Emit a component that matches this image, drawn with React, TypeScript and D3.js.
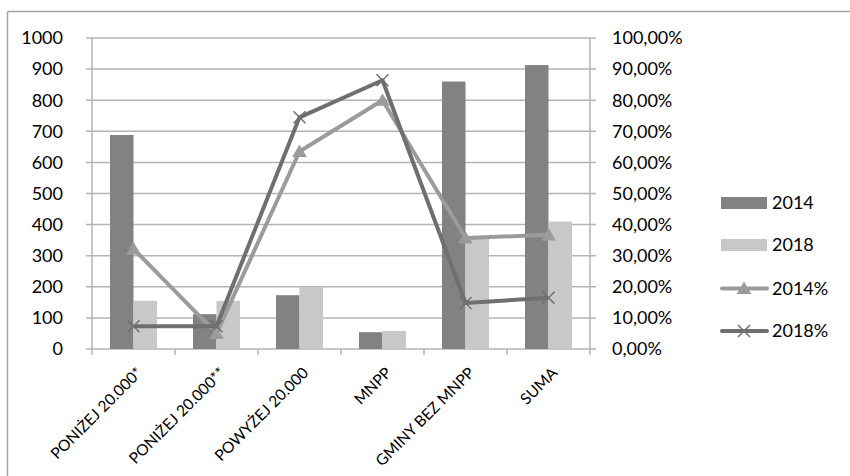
import React from "react";
import * as d3 from "d3";

const categories = ["PONIŻEJ 20.000*", "PONIŻEJ 20.000**", "POWYŻEJ 20.000", "MNPP", "GMINY BEZ MNPP", "SUMA"];
const bars2014 = [688, 112, 173, 54, 860, 913];
const bars2018 = [155, 155, 200, 58, 355, 410];
const pct2014 = [0.322, 0.05, 0.635, 0.80, 0.357, 0.367];
const pct2018 = [0.073, 0.073, 0.745, 0.864, 0.148, 0.165];
const leftTicks = [0, 100, 200, 300, 400, 500, 600, 700, 800, 900, 1000];
const rightTicks = [0, 0.1, 0.2, 0.3, 0.4, 0.5, 0.6, 0.7, 0.8, 0.9, 1.0];

const C_DARK = "#828282";
const C_LIGHT = "#c8c8c8";
const C_L14 = "#9b9b9b";
const C_L18 = "#6f6f6f";
const C_GRID = "#b4b4b4";
const FONT = "Lato, 'Open Sans', sans-serif";
const FS = 18;

export default function App() {
  const W = 850, H = 476;
  const left = 92, right = 590, top = 38, bottom = 349;
  const x = d3.scaleBand<string>().domain(categories).range([left, right]).paddingInner(0).paddingOuter(0);
  const y = d3.scaleLinear().domain([0, 1000]).range([bottom, top]);
  const yp = d3.scaleLinear().domain([0, 1]).range([bottom, top]);
  const bw = x.bandwidth();
  const barW = bw * 0.283;
  const cx = (c: string) => (x(c) as number) + bw / 2;

  const line14 = d3.line<number>().x((_, i) => cx(categories[i])).y((d) => yp(d));
  const line18 = d3.line<number>().x((_, i) => cx(categories[i])).y((d) => yp(d));
  const fmtPct = (v: number) => (v * 100).toFixed(2).replace(".", ",") + "%";

  const tri = (px: number, py: number, s = 7) =>
    `M${px},${py - s} L${px + s * 1.05},${py + s * 0.8} L${px - s * 1.05},${py + s * 0.8} Z`;
  const cross = (px: number, py: number, s = 6) =>
    `M${px - s},${py - s} L${px + s},${py + s} M${px - s},${py + s} L${px + s},${py - s}`;

  const legendY = [203, 245, 288.5, 331];
  const lx0 = 721, lx1 = 767, ltx = 772;

  return (
    <svg width={W} height={H} style={{ position: "absolute", left: 0, top: 0, background: "#fff" }} fontFamily={FONT}>
      <rect x={0} y={0} width={W} height={H} fill="#fff" />
      {/* outer frame */}
      <line x1={7.5} y1={11.5} x2={W} y2={11.5} stroke="#a6a6a6" strokeWidth={1.5} />
      <line x1={7.5} y1={11.5} x2={7.5} y2={H} stroke="#a6a6a6" strokeWidth={1.5} />

      {/* gridlines */}
      {leftTicks.map((t) => (
        <line key={"g" + t} x1={left - 6} x2={right + 6} y1={y(t)} y2={y(t)} stroke={C_GRID} strokeWidth={1.5} />
      ))}
      {/* axes */}
      <line x1={left} x2={left} y1={top} y2={bottom} stroke={C_GRID} strokeWidth={1.5} />
      <line x1={right} x2={right} y1={top} y2={bottom} stroke={C_GRID} strokeWidth={1.5} />
      {categories.map((c, i) => (
        <line key={"xt" + i} x1={x(c) as number} x2={x(c) as number} y1={bottom} y2={bottom + 6} stroke={C_GRID} strokeWidth={1.5} />
      ))}
      <line x1={right} x2={right} y1={bottom} y2={bottom + 6} stroke={C_GRID} strokeWidth={1.5} />

      {/* bars */}
      {categories.map((c, i) => (
        <g key={"b" + i}>
          <rect x={cx(c) - barW} y={y(bars2014[i])} width={barW} height={bottom - y(bars2014[i])} fill={C_DARK} />
          <rect x={cx(c)} y={y(bars2018[i])} width={barW} height={bottom - y(bars2018[i])} fill={C_LIGHT} />
        </g>
      ))}

      {/* lines */}
      <path d={line14(pct2014) as string} fill="none" stroke={C_L14} strokeWidth={4} strokeLinejoin="round" />
      {pct2014.map((v, i) => (
        <path key={"t" + i} d={tri(cx(categories[i]), yp(v))} fill={C_L14} />
      ))}
      <path d={line18(pct2018) as string} fill="none" stroke={C_L18} strokeWidth={4} strokeLinejoin="round" />
      {pct2018.map((v, i) => (
        <path key={"x" + i} d={cross(cx(categories[i]), yp(v))} stroke={C_L18} strokeWidth={1.5} fill="none" />
      ))}

      {/* left tick labels */}
      {leftTicks.map((t) => (
        <text key={"lt" + t} x={63} y={y(t)} dy="0.35em" textAnchor="end" fontSize={FS} fill="#000">{t}</text>
      ))}
      {/* right tick labels */}
      {rightTicks.map((t) => (
        <text key={"rt" + t} x={612} y={yp(t)} dy="0.35em" textAnchor="start" fontSize={FS} fill="#000">{fmtPct(t)}</text>
      ))}
      {/* x labels */}
      {categories.map((c, i) => (
        <text key={"xl" + i} transform={`translate(${cx(c) + 6},${bottom + 21}) rotate(-45)`} textAnchor="end" dy="0.35em" fontSize={15.5} fill="#000">{c}</text>
      ))}

      {/* legend */}
      <rect x={lx0} y={legendY[0] - 6} width={lx1 - lx0} height={12} fill={C_DARK} />
      <text x={ltx} y={legendY[0]} dy="0.35em" fontSize={FS} fill="#000">2014</text>
      <rect x={lx0} y={legendY[1] - 6} width={lx1 - lx0} height={12} fill={C_LIGHT} />
      <text x={ltx} y={legendY[1]} dy="0.35em" fontSize={FS} fill="#000">2018</text>
      <line x1={lx0 + 1} x2={lx1} y1={legendY[2]} y2={legendY[2]} stroke={C_L14} strokeWidth={4} strokeLinecap="round" />
      <path d={tri((lx0 + lx1) / 2, legendY[2])} fill={C_L14} />
      <text x={ltx} y={legendY[2]} dy="0.35em" fontSize={FS} fill="#000">2014%</text>
      <line x1={lx0 + 1} x2={lx1} y1={legendY[3]} y2={legendY[3]} stroke={C_L18} strokeWidth={4} strokeLinecap="round" />
      <path d={cross((lx0 + lx1) / 2, legendY[3])} stroke={C_L18} strokeWidth={1.5} fill="none" />
      <text x={ltx} y={legendY[3]} dy="0.35em" fontSize={FS} fill="#000">2018%</text>
    </svg>
  );
}
